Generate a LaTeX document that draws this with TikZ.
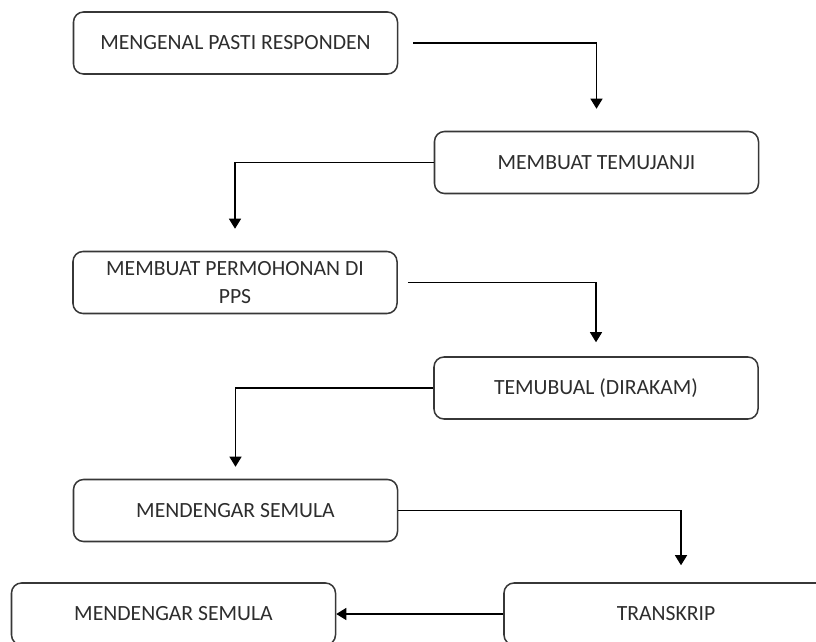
\documentclass[tikz,border=0pt]{standalone}
\usepackage{fontspec}
\setmainfont{Carlito}
\usepackage{xcolor}
\usetikzlibrary{arrows.meta, positioning}
\definecolor{kotak_line}{RGB}{55, 55, 55}
\definecolor{kotak_text}{RGB}{45, 45, 45}

\begin{document}
\begin{tikzpicture}[
        x=0.03cm, y=-0.03cm,
        every node/.style={font=\fontsize{18.5}{24}\selectfont, text=kotak_text},
        kotak/.style={draw=kotak_line, line width=1.3pt, rounded corners=0.3cm,
                      minimum width=9.72cm, minimum height=1.86cm,
                      align=center, inner sep=0pt},
        anak/.style={-{Triangle[width=0.36cm, length=0.3cm]}, line width=1pt, black},
      ]
        \useasboundingbox (0,0) rectangle (816,641);
        \clip (0,0) rectangle (816,641);

        \node[kotak] (kenal)   at (235.5, 43)  {MENGENAL PASTI RESPONDEN};
        \node[kotak] (janji)   at (596.5,162.5) {MEMBUAT TEMUJANJI};
        \node[kotak] (mohon)   at (235,282.5)  {MEMBUAT PERMOHONAN DI\\PPS};
        \node[kotak] (bual)    at (596,388)    {TEMUBUAL (DIRAKAM)};
        \node[kotak] (dengar)  at (235.5,510.5) {MENDENGAR SEMULA};
        \node[kotak] (skrip)   at (666,614)    {TRANSKRIP};
        \node[kotak] (dengar2) at (173.5,614)  {MENDENGAR SEMULA};

        \draw[anak, shorten <=0.45cm, shorten >=0.66cm] (kenal) -| (janji);
        \draw[anak, shorten >=0.66cm] (janji) -| (mohon);
        \draw[anak, shorten <=0.3cm, shorten >=0.42cm] (mohon) -| (bual);
        \draw[anak, shorten >=0.36cm] (bual) -| (dengar);
        \draw[anak, shorten >=0.51cm] (dengar) -| ([xshift=0.45cm]skrip.north);
        \draw[anak] (skrip) -- (dengar2);
      \end{tikzpicture}
\end{document}
